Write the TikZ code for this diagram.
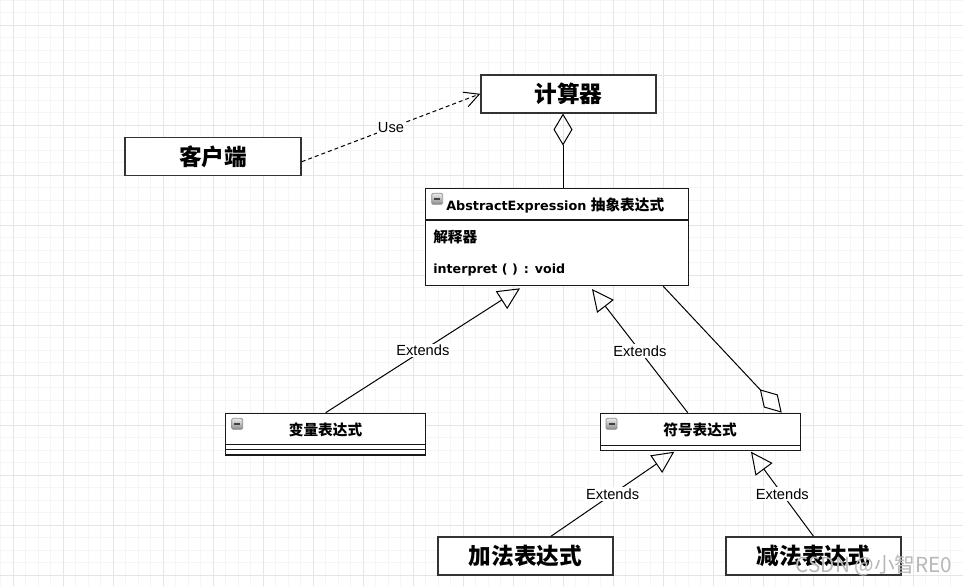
\documentclass[tikz,border=0pt]{standalone}
\usepackage{fontspec}
\setmainfont{Liberation Sans}
\newfontfamily\cjk{Noto Sans CJK SC}
\newfontfamily\dvs{DejaVu Sans}
\usetikzlibrary{arrows.meta,calc}
\tikzset{
  bigbox/.style={draw=black!80, line width=1.1pt, fill=white, inner sep=0pt,
    minimum width=131.25pt, minimum height=28.5pt,
    font=\cjk\bfseries\fontsize{17pt}{17pt}\selectfont},
  classbox/.style={draw=black!90, line width=1pt, fill=white, inner sep=0pt},
  ctext/.style={inner sep=0pt, font=\cjk\bfseries\fontsize{11pt}{11pt}\selectfont},
  lbl/.style={fill=white, inner sep=1pt, font=\fontsize{11pt}{13pt}\selectfont},
  conn/.style={draw=black, line width=0.75pt},
  ext/.style={conn, -{Triangle[open, length=16.5pt, width=15.75pt]}},
  agg/.style={conn, -{Diamond[open, length=24pt, width=14.25pt]}},
  use/.style={conn, dash pattern=on 3pt off 2.25pt, -{Straight Barb[length=11pt, width=11.5pt]}},
  minorgrid/.style={draw=black!4, line width=0.6pt},
  majorgrid/.style={draw=black!10, line width=0.75pt},
  pics/collapse/.style={code={
    \draw[rounded corners=1pt, draw=black!45, top color=black!8, bottom color=black!45, line width=0.6pt] (0,0) rectangle (11,11);
    \draw[line width=1.3pt, black!75] (2.5,5.5) -- (8.5,5.5);
  }}
}
\begin{document}
\begin{tikzpicture}[x=0.75pt,y=-0.75pt]
\useasboundingbox (0,0) rectangle (963,586);
\fill[white] (0,0) rectangle (963,586);
% grid
\foreach \i in {0,...,77} { \draw[minorgrid] ({0.5+12.5*\i},0) -- ({0.5+12.5*\i},586); }
\foreach \i in {0,...,47} { \draw[minorgrid] (0,{12.5*\i}) -- (963,{12.5*\i}); }
\foreach \i in {0,...,19} { \draw[majorgrid] ({13+50*\i},0) -- ({13+50*\i},586); }
\foreach \i in {0,...,11} { \draw[majorgrid] (0,{25+50*\i}) -- (963,{25+50*\i}); }

% simple boxes
\node[bigbox] (calc) at (568.5,93.8) {计算器};
\node[bigbox, minimum width=132pt] (client) at (213,156.5) {客户端};
\node[bigbox] (add) at (525.5,556) {加法表达式};
\node[bigbox] (sub) at (813.5,556) {减法表达式};

% AbstractExpression class
\node[classbox, minimum width=197pt, minimum height=73pt] (abs) at (557,237) {};
\draw[classbox] ($(abs.north west)+(0,32.4)$) -- ($(abs.north east)+(0,32.4)$);
\pic at (431.7,193.3) {collapse};
\node[ctext, anchor=base west] (absT) at (446,210) {\dvs\bfseries\fontsize{9.6pt}{9.6pt}\selectfont AbstractExpression \cjk\bfseries\fontsize{11pt}{11pt}\selectfont 抽象表达式};
\node[ctext, anchor=west] (absA) at (433,236.5) {解释器};
\node[ctext, anchor=base west] (absM) at (433,273.5) {\dvs\bfseries\fontsize{9.5pt}{9.5pt}\selectfont interpret ( )\hspace{4.5pt}:\hspace{4.5pt}void};

% 变量表达式 class
\node[classbox, minimum width=150pt, minimum height=31.3pt] (var) at (325.7,434.2) {};
\draw[classbox] ($(var.north west)+(0,31.7)$) -- ($(var.north east)+(0,31.7)$);
\draw[classbox] ($(var.north west)+(0,36.7)$) -- ($(var.north east)+(0,36.7)$);
\pic at (231.7,418.3) {collapse};
\node[ctext] (varT) at (325.5,430) {变量表达式};

% 符号表达式 class
\node[classbox, minimum width=150pt, minimum height=27.75pt] (sym) at (700.7,431.8) {};
\draw[classbox] ($(sym.north west)+(0,32.7)$) -- ($(sym.north east)+(0,32.7)$);
\pic at (606,418.3) {collapse};
\node[ctext] (symT) at (700,430) {符号表达式};

% arrow tip points
\coordinate (t1) at (520,288.3);
\coordinate (t2) at (592,289);
\coordinate (t3) at (674.3,451.7);
\coordinate (t4) at (751,451.7);

% connectors
\draw[use] ([yshift=-3.9pt]client.east) -- (calc.west) node[lbl, pos=0.5] (useL) {Use};
\draw[agg] ([xshift=4.5pt]abs.north) -- ([xshift=-4.125pt]calc.south);
\draw[ext] (var.north) -- (t1) node[lbl, pos=0.5] (e1) {Extends};
\draw[ext] ([xshift=-9.75pt]sym.north) -- (t2) node[lbl, pos=0.5] (e2) {Extends};
\draw[agg] ([xshift=79.7pt]abs.south) -- ([xshift=60.75pt]sym.north);
\draw[ext] ([xshift=19.1pt]add.north) -- (t3) node[lbl, pos=0.5] (e3) {Extends};
\draw[ext] (sub.north) -- (t4) node[lbl, pos=0.5] (e4) {Extends};

% watermark
\node[inner sep=0pt, text=black!28, font=\cjk\fontsize{15.5pt}{15.5pt}\selectfont] (wm) at (874,566) {CSDN @小智RE0};
\end{tikzpicture}
\end{document}
